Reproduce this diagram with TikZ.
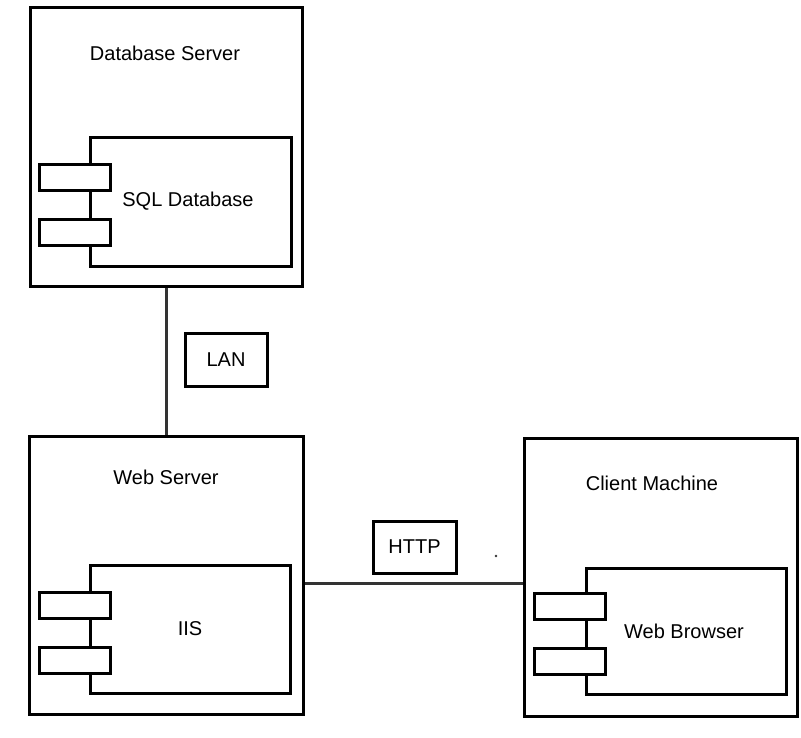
\documentclass[tikz,border=0pt]{standalone}
\usepackage{fontspec}
\setmainfont{Liberation Sans}
\begin{document}
\begin{tikzpicture}[x=1pt,y=-1pt,
  frame/.style={draw=black,line width=3pt,fill=white,inner sep=0pt,rectangle},
  tab/.style={frame,minimum width=71pt,minimum height=26pt},
  label/.style={inner sep=0pt,font=\fontsize{20}{24}\selectfont,text=black},
  wire/.style={draw=black!80,line width=3pt}]
\useasboundingbox (0,0) rectangle (801,737);
% Database server
\node[frame,minimum width=272pt,minimum height=279pt] (db) at (166,146.5) {};
\node[label] (dbt) at (165,53) {Database Server};
\node[frame,minimum width=201pt,minimum height=129pt] (sql) at (190.5,201.5) {};
\node[tab] (sqlt1) at (74.5,177.5) {};
\node[tab] (sqlt2) at (74.5,232.5) {};
\node[label] (sqlx) at (188,201) {SQL Database};
% Web server
\node[frame,minimum width=274pt,minimum height=278pt] (web) at (166,575) {};
\node[label] (webt) at (166,477) {Web Server};
\node[frame,minimum width=200pt,minimum height=128pt] (iis) at (190,629) {};
\node[tab] (iist1) at (74.5,605.5) {};
\node[tab] (iist2) at (74.5,660) {};
\node[label] (iisx) at (190,629) {IIS};
% Client machine
\node[frame,minimum width=273pt,minimum height=278pt] (cli) at (660.5,577) {};
\node[label] (clit) at (652,483) {Client Machine};
\node[frame,minimum width=200pt,minimum height=126pt] (wb) at (686,631) {};
\node[tab] (wbt1) at (569.5,606.5) {};
\node[tab] (wbt2) at (569.5,661.5) {};
\node[label] (wbx) at (684,631) {Web Browser};
% labels of links
\node[frame,minimum width=82pt,minimum height=53pt] (lan) at (226,359.5) {};
\node[label] (lanx) at (226,360) {LAN};
\node[frame,minimum width=83pt,minimum height=52pt] (http) at (414.5,547) {};
\node[label] (httpx) at (414.5,547) {HTTP};
\fill[black!80] (496,556) circle (1.3pt) coordinate (dot);
% connectors
\coordinate (hy) at (0,583);
\draw[wire] (db.south) -- (web.north);
\draw[wire] (web.east |- hy) -- (cli.west |- hy);
\end{tikzpicture}
\end{document}
